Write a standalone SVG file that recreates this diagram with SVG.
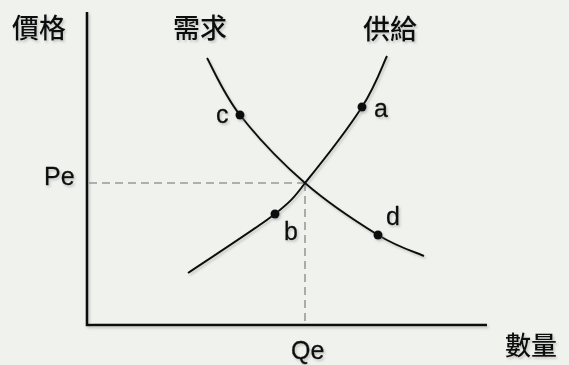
<svg xmlns="http://www.w3.org/2000/svg" width="569" height="365" viewBox="0 0 569 365">
<defs>
<filter id="sh" x="-10%" y="-10%" width="130%" height="130%">
<feDropShadow dx="1.5" dy="2" stdDeviation="1.2" flood-color="#777" flood-opacity="0.35"/>
</filter>
</defs>
<style>
.cjk{font-family:"Noto Sans CJK TC","Noto Sans CJK SC",sans-serif;font-size:27px;fill:#111;font-weight:500}
.lat{font-family:"Liberation Sans",Arial,sans-serif;font-size:25px;fill:#111;stroke:#111;stroke-width:0.3}
.axis{stroke:#111;stroke-width:2.6;fill:none}
.curve{stroke:#111;stroke-width:2;fill:none}
.dash{stroke:#999;stroke-width:1.6;stroke-dasharray:8 5;fill:none}
.dot{fill:#111}
</style>
<rect width="569" height="365" fill="#eff2ed"/>
<g id="guides">
<path class="dash" d="M89 183 H305"/>
<path class="dash" d="M305 183 V324"/>
</g>
<g id="axes" filter="url(#sh)">
<path class="axis" d="M87 12 V325 H487"/>
</g>
<g id="connectors" filter="url(#sh)">
<path id="demand" class="curve" d="M207 58 C212.5 67.5 223.7 94.2 240 115 C256.3 135.8 282 163 305 183 C328 203 358.2 222.8 378 235 C397.8 247.2 416.3 252.5 424 256"/>
<path id="supply" class="curve" d="M188 273 C202.5 263.2 255.5 229 275 214 C290 202 294 198 305 183 C319.5 165.2 348.3 128.2 362 107 C375.7 85.8 382.8 64.5 387 56"/>
</g>
<g id="point-a" filter="url(#sh)"><circle class="dot" cx="362" cy="107" r="4.5"/><text class="lat" x="374" y="117">a</text></g>
<g id="point-b" filter="url(#sh)"><circle class="dot" cx="275" cy="214" r="4.5"/><text class="lat" x="284" y="240">b</text></g>
<g id="point-c" filter="url(#sh)"><circle class="dot" cx="240" cy="115" r="4.5"/><text class="lat" x="216" y="123">c</text></g>
<g id="point-d" filter="url(#sh)"><circle class="dot" cx="378" cy="235" r="4.5"/><text class="lat" x="386" y="225">d</text></g>
<g id="labels" filter="url(#sh)">
<text class="cjk" x="12" y="38">價格</text>
<text class="cjk" x="173" y="38">需求</text>
<text class="cjk" x="363" y="39">供給</text>
<text class="cjk" x="505" y="355" style="font-size:26px">數量</text>
<text class="lat" x="44" y="185">Pe</text>
<text class="lat" x="291" y="359">Qe</text>
</g>
</svg>
